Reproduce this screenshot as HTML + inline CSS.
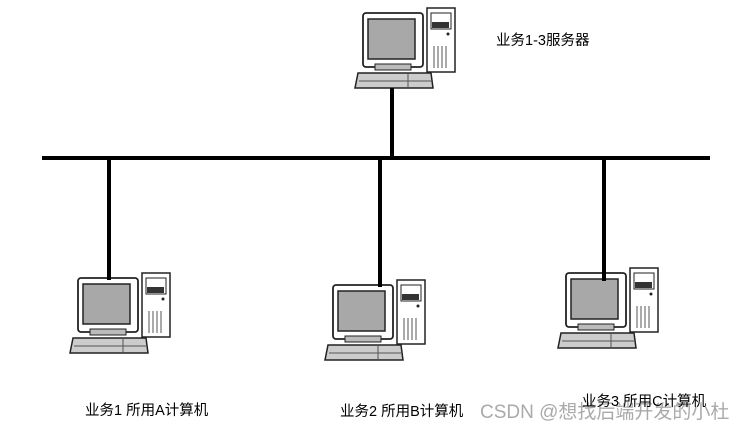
<!DOCTYPE html>
<html><head><meta charset="utf-8"><style>
html,body{margin:0;padding:0;background:#fff;}
body{width:746px;height:428px;overflow:hidden;position:relative;font-family:"Liberation Sans","Noto Sans CJK SC",sans-serif;}
.t{position:absolute;font-size:14.5px;color:#000;white-space:nowrap;}
</style></head><body>
<svg width="746" height="428" style="position:absolute;left:0;top:0">
<defs>
<g id="pc">
  <rect x="64" y="-5" width="28" height="64" fill="#fff" stroke="#222" stroke-width="1.5"/>
  <rect x="68" y="0" width="20" height="16" fill="#fff" stroke="#222" stroke-width="1"/>
  <rect x="69" y="9" width="17" height="6" fill="#333"/>
  <circle cx="85" cy="21" r="1.5" fill="#222"/>
  <g stroke="#555" stroke-width="1"><line x1="71" y1="33" x2="71" y2="55"/><line x1="75" y1="33" x2="75" y2="55"/><line x1="79" y1="33" x2="79" y2="55"/><line x1="83" y1="33" x2="83" y2="55"/></g>
  <rect x="0" y="0" width="60" height="54" rx="3" fill="#fff" stroke="#222" stroke-width="1.8"/>
  <rect x="5" y="6" width="47" height="40" fill="#a8a8a8" stroke="#222" stroke-width="1.5"/>
  <rect x="12" y="51" width="36" height="6" fill="#bbb" stroke="#222" stroke-width="1"/>
  <path d="M-5 60 L68 60 L70 75 L-8 75 Z" fill="#ccc" stroke="#222" stroke-width="1.5"/>
  <line x1="-4" y1="68" x2="69" y2="68" stroke="#555" stroke-width="1"/>
  <line x1="45" y1="61" x2="45" y2="74" stroke="#555" stroke-width="1"/>
</g>
</defs>
<use href="#pc" x="363" y="13"/>
<use href="#pc" x="78" y="278"/>
<use href="#pc" x="333" y="285"/>
<use href="#pc" x="566" y="273"/>
<g stroke="#000" stroke-width="4">
<line x1="42" y1="158" x2="710" y2="158"/>
<line x1="392" y1="88" x2="392" y2="158"/>
<line x1="109" y1="158" x2="109" y2="280"/>
<line x1="380" y1="158" x2="380" y2="287"/>
<line x1="604" y1="158" x2="604" y2="281"/>
</g>
</svg>
<div class="t" style="left:496px;top:29px">业务1-3服务器</div>
<div class="t" style="left:85px;top:399px">业务1 所用A计算机</div>
<div class="t" style="left:340px;top:400px">业务2 所用B计算机</div>
<div class="t" style="left:480px;top:397px;font-size:19px;color:#aaa">CSDN @想找后端开发的小杜</div>
<div class="t" style="left:582px;top:390px">业务3 所用C计算机</div>
</body></html>
